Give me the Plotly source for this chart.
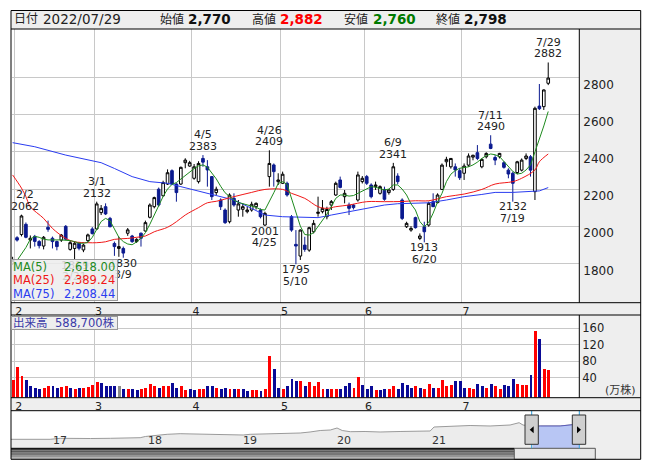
import plotly.graph_objects as go

# page body has an 8px margin, so the figure is drawn 8px in from the window corner
OFF = 8
W, H = 645, 462
FONT = "DejaVu Sans, Noto Sans CJK JP, sans-serif"

# trading-day index: -1 = 2022/01/31, 0 = 02/01 ... 120 = 07/29
days = list(range(-1, 121))
opens = [1800, 1938, 1955, 2010, 1925, 1945, 1917, 1893, 1994, 1935, 1917, 1925, 1999, 1875, 1880, 1908,
         1872, 1922, 1985, 1985, 2073, 2105, 2042, 1907, 1880, 1880, 1962, 1947, 1917, 1962, 1974,
         2048, 2105, 2199, 2164, 2227, 2299, 2227, 2227, 2342, 2324, 2258, 2240, 2365, 2320, 2267,
         2181, 2141, 2087, 2024, 2150, 2087, 2091, 2078, 2087, 2105, 2087, 2006, 2267, 2330, 2240,
         2231, 2231, 2051, 1902, 1839, 1898, 1871, 1970, 2069, 2078, 2051, 2114, 2168, 2249, 2159,
         2114, 2114, 2141, 2240, 2267, 2222, 2213, 2177, 2198, 2181, 2198, 2270, 2141, 1997, 1979,
         2046, 1934, 1997, 2006, 2132, 2127, 2198, 2347, 2320, 2320, 2299, 2285, 2329, 2372, 2396,
         2320, 2374, 2442, 2370, 2374, 2342, 2302, 2285, 2289, 2302, 2365, 2374, 2186, 2647, 2644,
         2770]
highs = [1835, 1946, 2062, 2020, 1950, 1953, 1925, 1947, 2030, 1944, 1922, 1958, 2006, 1925, 1918, 1915,
         1905, 1960, 1995, 2132, 2114, 2123, 2050, 1917, 1943, 1890, 1990, 1953, 1935, 1966, 2030,
         2123, 2159, 2208, 2245, 2306, 2306, 2231, 2321, 2366, 2352, 2335, 2350, 2383, 2356, 2270,
         2213, 2150, 2096, 2177, 2177, 2141, 2123, 2105, 2132, 2128, 2096, 2078, 2409, 2338, 2285,
         2294, 2240, 2060, 1979, 1983, 1943, 1997, 2033, 2159, 2141, 2105, 2141, 2240, 2267, 2195,
         2127, 2120, 2294, 2270, 2276, 2231, 2240, 2220, 2213, 2200, 2341, 2285, 2150, 2024, 2000,
         2051, 1961, 2024, 2132, 2177, 2177, 2338, 2374, 2366, 2338, 2312, 2338, 2392, 2385, 2437,
         2365, 2398, 2490, 2383, 2395, 2350, 2312, 2294, 2352, 2365, 2392, 2383, 2644, 2766, 2737,
         2882]
lows = [1790, 1917, 1945, 1935, 1880, 1890, 1880, 1875, 1970, 1880, 1870, 1915, 1925, 1868, 1819, 1870,
        1860, 1915, 1955, 1980, 2060, 2060, 1994, 1840, 1835, 1830, 1948, 1910, 1910, 1890, 1970,
        2042, 2096, 2105, 2159, 2222, 2222, 2132, 2222, 2312, 2320, 2250, 2230, 2320, 2213, 2141,
        2168, 2087, 2012, 2015, 2105, 2051, 2051, 2069, 2078, 2090, 2042, 2001, 2213, 2213, 2222,
        2227, 2159, 1970, 1795, 1818, 1862, 1862, 1961, 2051, 2069, 2037, 2087, 2163, 2204, 2123,
        2060, 2090, 2132, 2230, 2222, 2150, 2195, 2170, 2137, 2170, 2190, 2226, 2033, 1990, 1970,
        1987, 1925, 1913, 1997, 2123, 2123, 2195, 2320, 2310, 2267, 2249, 2249, 2320, 2355, 2356,
        2312, 2365, 2415, 2329, 2365, 2310, 2258, 2132, 2280, 2295, 2356, 2267, 2141, 2626, 2626,
        2760]
closes = [1815, 1925, 2055, 1940, 1935, 1918, 1895, 1940, 1983, 1917, 1890, 1952, 1930, 1911, 1908, 1881,
          1898, 1953, 1960, 2120, 2096, 2066, 1997, 1890, 1890, 1855, 1980, 1917, 1929, 1935, 2019,
          2114, 2154, 2114, 2235, 2288, 2227, 2181, 2317, 2356, 2342, 2320, 2338, 2345, 2303, 2159,
          2199, 2105, 2019, 2168, 2114, 2120, 2105, 2087, 2118, 2123, 2051, 2069, 2338, 2294, 2249,
          2280, 2168, 1979, 1893, 1979, 1875, 1992, 2015, 2075, 2096, 2090, 2132, 2231, 2209, 2177,
          2096, 2100, 2276, 2258, 2231, 2159, 2222, 2213, 2145, 2195, 2320, 2240, 2042, 2015, 1988,
          1992, 1947, 1970, 2123, 2105, 2168, 2329, 2360, 2365, 2303, 2261, 2324, 2378, 2382, 2365,
          2360, 2392, 2419, 2356, 2392, 2317, 2281, 2231, 2347, 2356, 2378, 2302, 2635, 2633, 2734,
          2798]

# volume (万株) and bar colour: r = up, b = down, g = unchanged
volume = [34.5, 66.8, 44.2, 34.5, 19.9, 16.7, 12.6, 15.8, 19.9, 19.9, 15.8, 18.2, 19.9, 16.7, 12.6, 16.7,
          15.8, 18.2, 22.3, 30.4, 26.5, 19.9, 19.9, 19.9, 19.9, 12.6, 12.6, 14.3, 10.2, 12.6, 15.8,
          24.8, 19.9, 15.8, 19.9, 19.9, 27.9, 16.7, 19.9, 10.2, 11.9, 10.2, 14.3, 14.3, 19.9, 19.9,
          16.7, 12.6, 16.7, 12.6, 12.6, 12.6, 12.6, 7.8, 10.2, 10.2, 7.8, 12.6, 92.8, 61.2, 16.7,
          12.6, 19.9, 36.2, 32.8, 32.1, 19.9, 28.9, 19.9, 28.9, 14.3, 11.9, 14.3, 14.3, 14.3, 19.9,
          26.5, 16.7, 41.0, 24.0, 12.6, 19.9, 10.2, 10.2, 14.3, 14.3, 19.9, 14.3, 26.5, 22.3, 16.7,
          19.9, 16.7, 14.3, 24.8, 16.7, 16.7, 34.5, 19.9, 22.3, 32.1, 32.1, 16.7, 16.7, 14.3, 24.8,
          19.9, 16.7, 24.8, 19.9, 11.9, 22.3, 19.9, 36.9, 24.8, 22.3, 22.3, 46.6, 153.5, 134.0, 61.2,
          58.87]
vol_dir = ("rrrbbbbrrbbrrbrbrrrrbbbbgbrbbrrrrbrrbbrrbbrrbbrbbrbrbbrrbrrbbrbbbrbrrrrb"
           "rrbbbrrbbbrbbrrbbbbrbrrbrrrrbbbrrbbrbrrbbbrrrbrbrr")

# moving averages (index, value)
ma5_x = list(range(0, 121))
ma5_y = [1815, 1850, 1885, 1930, 1945, 1940, 1930, 1926, 1928, 1926, 1926, 1926, 1922, 1917, 1908, 1908,
         1912, 1940, 1985, 2025, 2042, 2030, 1985, 1940, 1917, 1904, 1900, 1915, 1935, 1965, 2010,
         2060, 2110, 2160, 2200, 2225, 2235, 2255, 2275, 2290, 2310, 2325, 2330, 2318, 2285, 2255,
         2215, 2180, 2160, 2140, 2128, 2120, 2112, 2108, 2102, 2090, 2087, 2130, 2180, 2230, 2240,
         2225, 2150, 2075, 2000, 1955, 1952, 1965, 1997, 2035, 2065, 2105, 2150, 2168, 2168, 2162,
         2165, 2177, 2190, 2200, 2213, 2210, 2204, 2195, 2200, 2222, 2222, 2200, 2168, 2120, 2087,
         2025, 1997, 2020, 2070, 2130, 2177, 2240, 2280, 2300, 2312, 2315, 2320, 2330, 2345, 2365,
         2380, 2389, 2385, 2375, 2350, 2320, 2295, 2281, 2285, 2303, 2330, 2400, 2465, 2540, 2618]
ma25_x = [-1, 1, 2, 3, 6, 8, 11, 13, 16, 18, 20, 22, 25, 27, 29, 31, 34, 36, 38, 41, 43, 45, 49, 53,
          56, 60, 62, 65, 68, 70, 72, 75, 79, 83, 87, 90, 93, 97, 101, 105, 108, 112, 114, 117, 118, 120]
ma25_y = [2276, 2205, 2159, 2105, 2042, 1988, 1934, 1916, 1911, 1911, 1916, 1929, 1934, 1940, 1947, 1970,
          1994, 2024, 2060, 2100, 2126, 2134, 2159, 2182, 2198, 2198, 2177, 2150, 2105, 2096, 2105,
          2114, 2132, 2132, 2133, 2137, 2137, 2159, 2173, 2198, 2227, 2240, 2258, 2303, 2347, 2389]
ma75_x = [-1, 4, 11, 19, 22, 26, 30, 34, 37, 41, 45, 49, 53, 56, 60, 64, 68, 71, 75, 79, 83, 86, 90,
          93, 97, 101, 105, 108, 112, 116, 118, 120]
ma75_y = [2450, 2428, 2383, 2342, 2311, 2267, 2240, 2231, 2213, 2190, 2163, 2141, 2096, 2060, 2051, 2048,
          2046, 2060, 2078, 2096, 2114, 2121, 2123, 2126, 2141, 2159, 2171, 2182, 2182, 2186, 2190, 2208]

# peak / trough labels: (index, date text, price)
peak_lbl = [(1, "2/2", 2062), (18, "3/1", 2132), (42, "4/5", 2383), (57, "4/26", 2409),
            (85, "6/9", 2341), (107, "7/11", 2490), (120, "7/29", 2882)]
trough_lbl = [(13, "2/21", 1819), (24, "3/9", 1830), (56, "4/25", 2001), (63, "5/10", 1795),
              (92, "6/20", 1913), (112, "7/19", 2132)]

month_pos = [-0.5, 17.5, 39.5, 59.5, 78.5, 100.5]
month_txt = ["2", "3", "4", "5", "6", "7"]

# long-range navigator line
nav_dates = ["2016-07-29", "2016-10-01", "2016-12-27", "2017-02-04", "2017-03-10", "2017-04-10",
             "2017-05-31", "2017-08-16", "2017-10-12", "2017-12-09", "2017-12-29", "2018-01-17",
             "2018-02-24", "2018-03-23", "2018-05-12", "2018-07-28", "2018-10-13", "2018-12-22",
             "2019-01-10", "2019-02-06", "2019-04-24", "2019-07-10", "2019-08-18", "2019-09-25",
             "2019-11-03", "2019-12-12", "2020-01-07", "2020-01-27", "2020-02-27", "2020-04-24",
             "2020-06-21", "2020-09-06", "2020-11-22", "2020-12-31", "2021-01-15", "2021-03-18",
             "2021-06-03", "2021-08-19", "2021-11-04", "2021-12-09", "2021-12-24", "2022-01-31",
             "2022-02-28", "2022-05-16", "2022-07-13", "2022-07-29"]
nav_vals = [1118, 1120, 1118, 1198, 1180, 1222, 1182, 1198, 1246, 1246, 1342, 1382, 1501, 1517, 1565,
            1541, 1541, 1517, 1461, 1517, 1541, 1565, 1621, 1701, 1820, 1860, 2020, 1820, 1725, 1741,
            1701, 1741, 1781, 1781, 2100, 2140, 2219, 2180, 2259, 2443, 2259, 2140, 2180, 2180, 2259,
            2339]
nav_years = ["2017-01-01", "2018-01-01", "2019-01-01", "2020-01-01", "2021-01-01"]
nav_year_txt = ["17", "18", "19", "20", "21"]
sel_start = "2022-01-31"

VMIN, VMAX = -7.5, 192.4
X0, X1 = -1.254, 127.02


def fx(p):
    return (p - OFF) / W


def fy(p):
    return 1 - (p - OFF) / H


fig = go.Figure()

fig.add_trace(go.Candlestick(
    x=days, open=opens, high=highs, low=lows, close=closes,
    increasing=dict(line=dict(color="black", width=1), fillcolor="white"),
    decreasing=dict(line=dict(color="#0b1a8f", width=1), fillcolor="#0b1a8f"),
    whiskerwidth=0, hoverinfo="skip", xaxis="x", yaxis="y"))
fig.add_trace(go.Scatter(x=ma75_x, y=ma75_y, mode="lines", line=dict(color="#2a3cf0", width=1),
                         xaxis="x", yaxis="y", hoverinfo="skip"))
fig.add_trace(go.Scatter(x=ma25_x, y=ma25_y, mode="lines", line=dict(color="#f01818", width=1),
                         line_shape="spline", xaxis="x", yaxis="y", hoverinfo="skip"))
fig.add_trace(go.Scatter(x=ma5_x, y=ma5_y, mode="lines", line=dict(color="#1e8a1e", width=1),
                         xaxis="x", yaxis="y", hoverinfo="skip"))

cmap = {"r": "#ff0000", "b": "#0a0a96", "g": "#8c8c8c"}
fig.add_trace(go.Bar(x=days, y=[v - VMIN for v in volume], base=VMIN,
                     marker=dict(color=[cmap[c] for c in vol_dir], line=dict(width=0)),
                     width=0.66, xaxis="x2", yaxis="y2", hoverinfo="skip"))

fig.add_trace(go.Scatter(x=nav_dates, y=nav_vals, mode="lines", fill="tozeroy", fillcolor="#ececec",
                         line=dict(color="#9a9a9a", width=1), xaxis="x3", yaxis="y3", hoverinfo="skip"))
sel = [(d, v) for d, v in zip(nav_dates, nav_vals) if d >= sel_start]
fig.add_trace(go.Scatter(x=[d for d, v in sel], y=[v for d, v in sel], mode="lines", fill="tozeroy",
                         fillcolor="#b8c6f4", line=dict(color="#5a5ab8", width=1),
                         xaxis="x3", yaxis="y3", hoverinfo="skip"))

xcommon = dict(range=[X0, X1], tickmode="array", tickvals=month_pos, ticktext=month_txt,
               showgrid=True, gridcolor="#c8c8c8", gridwidth=1, zeroline=False, showline=False,
               ticks="", tickfont=dict(size=11, color="#222"), ticklabelshift=4,
               ticklabelstandoff=0, fixedrange=True)

fig.update_layout(
    width=W, height=H, margin=dict(l=0, r=0, t=0, b=0),
    paper_bgcolor="white", plot_bgcolor="rgba(0,0,0,0)", showlegend=False,
    font=dict(family=FONT, color="#222"),
    xaxis=dict(domain=[fx(11.5), fx(579.3)], anchor="y", rangeslider=dict(visible=False), **xcommon),
    yaxis=dict(domain=[fy(302.7), fy(29)], range=[1587.7, 3062.4], side="right", anchor="x",
               tickvals=[1800, 2000, 2200, 2400, 2600, 2800], showgrid=True, gridcolor="#c8c8c8",
               zeroline=False, ticks="", tickfont=dict(size=12, color="#222"),
               ticklabelshift=7, ticklabelstandoff=3),
    xaxis2=dict(domain=[fx(11.5), fx(579.3)], anchor="y2", **xcommon),
    yaxis2=dict(domain=[fy(397.5), fy(315)], range=[VMIN, VMAX], side="right", anchor="x2",
                tickvals=[40, 80, 120, 160], showgrid=True, gridcolor="#c8c8c8", zeroline=False,
                ticks="", tickfont=dict(size=11.5, color="#222"), ticklabelstandoff=2),
    xaxis3=dict(domain=[fx(11), fx(579.3)], anchor="y3", type="date",
                range=["2016-07-29", "2022-07-29"], showticklabels=False, ticks="", showgrid=False,
                zeroline=False),
    yaxis3=dict(domain=[fy(448.3), fy(410.7)], range=[400, 3400], visible=False, anchor="x3"),
    bargap=0, boxgap=0.15,
)

shapes = []


def rect(x0, y0, x1, y1, fill=None, line="black", width=1, layer="below"):
    shapes.append(dict(type="rect", xref="paper", yref="paper", x0=fx(x0), x1=fx(x1), y0=fy(y1), y1=fy(y0),
                       fillcolor=fill if fill else "rgba(0,0,0,0)",
                       line=dict(color=line if line else "rgba(0,0,0,0)", width=width if line else 0),
                       layer=layer))


def hline(x0, x1, y, color="black"):
    shapes.append(dict(type="line", xref="paper", yref="paper", x0=fx(x0), x1=fx(x1), y0=fy(y), y1=fy(y),
                       line=dict(color=color, width=1), layer="above"))


def vline(x, y0, y1, color="black"):
    shapes.append(dict(type="line", xref="paper", yref="paper", x0=fx(x), x1=fx(x), y0=fy(y0), y1=fy(y1),
                       line=dict(color=color, width=1), layer="above"))


GREY = "#eeeeee"
rect(11, 10, 640.7, 29, GREY, None)
rect(579.3, 29, 640.7, 302.7, GREY, None)
rect(11, 302.7, 640.7, 315, GREY, None)
rect(579.3, 315, 640.7, 397.7, GREY, None)
rect(11, 397.7, 640.7, 410.7, GREY, None)
rect(579.3, 410.7, 640.7, 459.3, GREY, None)

# scrollbar
bands = ["#3c3c3c", "#5a5a5a", "#777777", "#959595", "#b4b4b4"]
for k, c in enumerate(bands):
    rect(11, 448.3 + k * 2.2, 514.3, 448.3 + (k + 1) * 2.2, c, None, layer="above")
rect(514.3, 448.3, 595.3, 459.3, "#e6e6e6", "#555555", layer="above")

# selection markers
vline(531.7, 410.7, 448.3, "#2aa0e0")
vline(579.3, 410.7, 448.3, "#2aa0e0")
rect(525, 415, 538.3, 444.3, "#cfcfcf", "#333333", layer="above")
rect(572.3, 415, 585.7, 444.3, "#cfcfcf", "#333333", layer="above")
for cx, d in [(531.7, -1), (579.0, 1)]:
    path = "M {} {} L {} {} L {} {} Z".format(fx(cx - 2 * d), fy(426.2), fx(cx + 2 * d), fy(429.7),
                                             fx(cx - 2 * d), fy(433.2))
    shapes.append(dict(type="path", xref="paper", yref="paper", path=path, fillcolor="black",
                       line=dict(color="black", width=0), layer="above"))

# frame lines
hline(11, 640.7, 10.5)
hline(11, 640.7, 29)
hline(11, 640.7, 302.7)
hline(11, 640.7, 315)
hline(11, 640.7, 397.7)
hline(11, 640.7, 410.7)
hline(11, 514.3, 448.3)
hline(11, 640.7, 459.3)
vline(11, 10.5, 459.3)
vline(640.7, 10.5, 459.3)
vline(579.3, 29, 302.7)
vline(579.3, 315, 397.7)

ann = []


def txt(x, y, s, size=12, color="#222", anchor="left", bold=False):
    ann.append(dict(xref="paper", yref="paper", x=fx(x), y=fy(y), text=("<b>%s</b>" % s) if bold else s,
                    showarrow=False, xanchor=anchor, yanchor="middle",
                    font=dict(size=size, color=color, family=FONT)))


# header
txt(12.3, 19.5, "日付", 12)
txt(40.7, 19.5, "2022/07/29", 13.5)
txt(158.3, 19.5, "始値", 12)
txt(186.3, 19.5, "2,770", 13.5, "#111", bold=True)
txt(249.7, 19.5, "高値", 12)
txt(277.7, 19.5, "2,882", 13.5, "#ff0000", bold=True)
txt(341.7, 19.5, "安値", 12)
txt(370.7, 19.5, "2,760", 13.5, "#007a00", bold=True)
txt(434, 19.5, "終値", 12)
txt(462.3, 19.5, "2,798", 13.5, "#111", bold=True)

# navigator year labels
for d, s in zip(nav_years, nav_year_txt):
    ann.append(dict(x=d, xref="x3", y=fy(440.7), yref="paper", text=s, showarrow=False,
                    xanchor="left", yanchor="middle", xshift=0, font=dict(size=11, color="#333")))

# peak / trough labels
for i, d, p in peak_lbl:
    xs = 3.3 if i == 1 else 0
    ann.append(dict(x=i, y=p, xref="x", yref="y", text=str(p), showarrow=False, yanchor="middle",
                    yshift=8.5, xshift=xs, font=dict(size=11, color="#222")))
    ann.append(dict(x=i, y=p, xref="x", yref="y", text=d, showarrow=False, yanchor="middle",
                    yshift=20.2, xshift=xs, font=dict(size=11, color="#222")))
for i, d, p in trough_lbl:
    ann.append(dict(x=i, y=p, xref="x", yref="y", text=str(p), showarrow=False, yanchor="middle",
                    yshift=-5.3, font=dict(size=11, color="#222")))
    ann.append(dict(x=i, y=p, xref="x", yref="y", text=d, showarrow=False, yanchor="middle",
                    yshift=-17, font=dict(size=11, color="#222")))

# MA legend box (annotation so it sits over the labels)
ann.append(dict(xref="paper", yref="paper", x=fx(11), y=fy(259.3), xanchor="left", yanchor="top",
                text=" ", width=105, height=40, bgcolor="rgba(236,236,236,0.85)", bordercolor="#999999",
                borderwidth=1, borderpad=0, showarrow=False))
txt(11.3, 266.7, "MA(5)", 11.5, "#1e8a1e")
txt(117.3, 266.7, "2,618.00", 11.5, "#1e8a1e", "right")
txt(11.3, 280.3, "MA(25)", 11.5, "#f01818")
txt(117.3, 280.3, "2,389.24", 11.5, "#f01818", "right")
txt(11.3, 294.3, "MA(75)", 11.5, "#2a3cf0")
txt(117.3, 294.3, "2,208.44", 11.5, "#2a3cf0", "right")

# volume caption
ann.append(dict(xref="paper", yref="paper", x=fx(11), y=fy(316), xanchor="left", yanchor="top",
                text=" ", width=105, height=11.5, bgcolor="rgba(236,236,236,0.9)", bordercolor="#999999",
                borderwidth=1, borderpad=0, showarrow=False))
txt(11.3, 322.5, "出来高", 11.5, "#3a3aa8")
txt(117.3, 322.5, "588,700株", 11.5, "#3a3aa8", "right")
txt(638, 390, "(万株)", 11, "#333", "right")

fig.update_layout(shapes=shapes, annotations=ann)
fig.write_html("out.html")
